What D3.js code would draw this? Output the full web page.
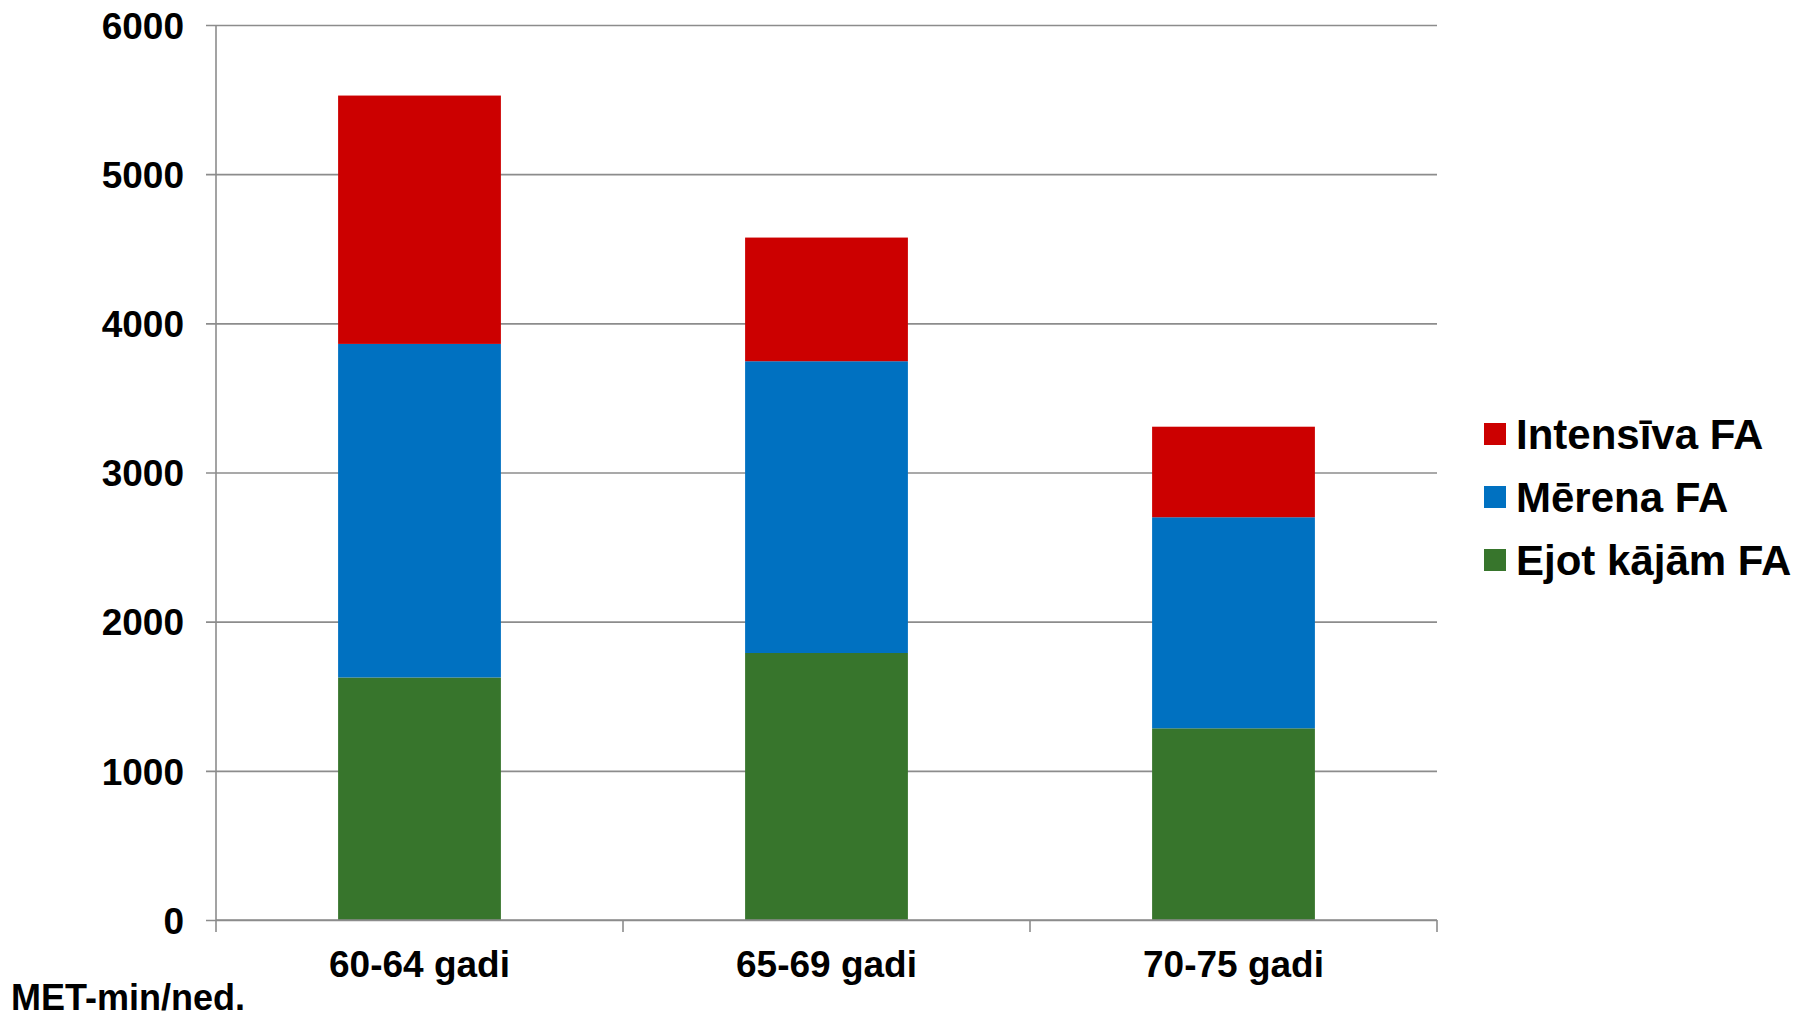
<!DOCTYPE html>
<html>
<head>
<meta charset="utf-8">
<script src="https://cdn.jsdelivr.net/npm/d3@7"></script>
<style>
  html, body { margin: 0; padding: 0; background: #fff; }
  svg { display: block; font-family: Arial, "Liberation Sans", sans-serif; font-weight: bold; }
</style>
</head>
<body>
<svg id="chart" width="1799" height="1018"></svg>
<script>
// Data
const categories = ["60-64 gadi", "65-69 gadi", "70-75 gadi"];
const seriesNames = ["Ejot kājām FA", "Mērena FA", "Intensīva FA"];
const walking = [1626, 1790, 1285];
const moderate = [2236, 1956, 1415];
const vigorous = [1665, 829, 607];
const yTicks = [0, 1000, 2000, 3000, 4000, 5000, 6000];
const yLabel = "MET-min/ned.";
const legendOrder = ["Intensīva FA", "Mērena FA", "Ejot kājām FA"];

const colors = { "Ejot kājām FA": "#37752c", "Mērena FA": "#0071c1", "Intensīva FA": "#cc0000" };

const rows = categories.map((c, i) => ({
  cat: c,
  "Ejot kājām FA": walking[i],
  "Mērena FA": moderate[i],
  "Intensīva FA": vigorous[i]
}));

const svg = d3.select("#chart");
const pLeft = 216, pRight = 1437, pTop = 25, pBottom = 920;

const x = d3.scaleBand().domain(categories).range([pLeft, pRight]).paddingInner(0.6).paddingOuter(0.3);
const xOuter = d3.scaleBand().domain(categories).range([pLeft, pRight]);
const y = d3.scaleLinear().domain([0, 6000]).range([pBottom, pTop]);

const gridColor = "#8c8c8c";

// Gridlines + y ticks
const yAxis = d3.axisLeft(y).tickValues(yTicks).tickFormat(d3.format("d"))
  .tickSize(-(pRight - pLeft)).tickSizeOuter(0).tickPadding(32);
const gy = svg.append("g").attr("transform", `translate(${pLeft},0)`).call(yAxis);
gy.select(".domain").remove();
gy.selectAll(".tick line").attr("stroke", gridColor).attr("stroke-width", 1.6).attr("x1", -10);
gy.selectAll(".tick text").attr("font-size", 37).attr("font-weight", "bold").attr("fill", "#000")
  .attr("font-family", "Arial, 'Liberation Sans', sans-serif").attr("dy", "0.36em");

// Y axis line
svg.append("line").attr("x1", pLeft).attr("x2", pLeft).attr("y1", y(6000)).attr("y2", pBottom + 12)
  .attr("stroke", gridColor).attr("stroke-width", 1.6);

// Stacked bars
const stack = d3.stack().keys(seriesNames);
const stacked = stack(rows);
svg.append("g").selectAll("g").data(stacked).join("g")
  .attr("fill", d => colors[d.key])
  .selectAll("rect").data(d => d).join("rect")
  .attr("x", d => x(d.data.cat))
  .attr("width", x.bandwidth())
  .attr("y", d => y(d[1]))
  .attr("height", d => y(d[0]) - y(d[1]));

// X axis line and ticks at band boundaries
svg.append("line").attr("x1", pLeft).attr("x2", pRight).attr("y1", pBottom).attr("y2", pBottom)
  .attr("stroke", gridColor).attr("stroke-width", 1.6);
const boundaries = categories.map(c => xOuter(c) + xOuter.bandwidth());
svg.append("g").selectAll("line").data(boundaries).join("line")
  .attr("x1", d => d).attr("x2", d => d).attr("y1", pBottom).attr("y2", pBottom + 12)
  .attr("stroke", gridColor).attr("stroke-width", 1.6);

// X labels
svg.append("g").selectAll("text").data(categories).join("text")
  .attr("x", d => x(d) + x.bandwidth() / 2)
  .attr("y", 977)
  .attr("text-anchor", "middle")
  .attr("font-size", 37)
  .attr("fill", "#000")
  .text(d => d);

// Y unit label
svg.append("text").attr("x", 11).attr("y", 1010).attr("font-size", 36).attr("fill", "#000").text(yLabel);

// Legend
const legend = svg.append("g").selectAll("g").data(legendOrder).join("g")
  .attr("transform", (d, i) => `translate(1484, ${434 + i * 63})`);
legend.append("rect").attr("x", 0).attr("y", -11).attr("width", 22).attr("height", 22).attr("fill", d => colors[d]);
legend.append("text").attr("x", 32).attr("y", 0).attr("dy", "0.36em").attr("font-size", 42).attr("fill", "#000").text(d => d);
</script>
</body>
</html>
